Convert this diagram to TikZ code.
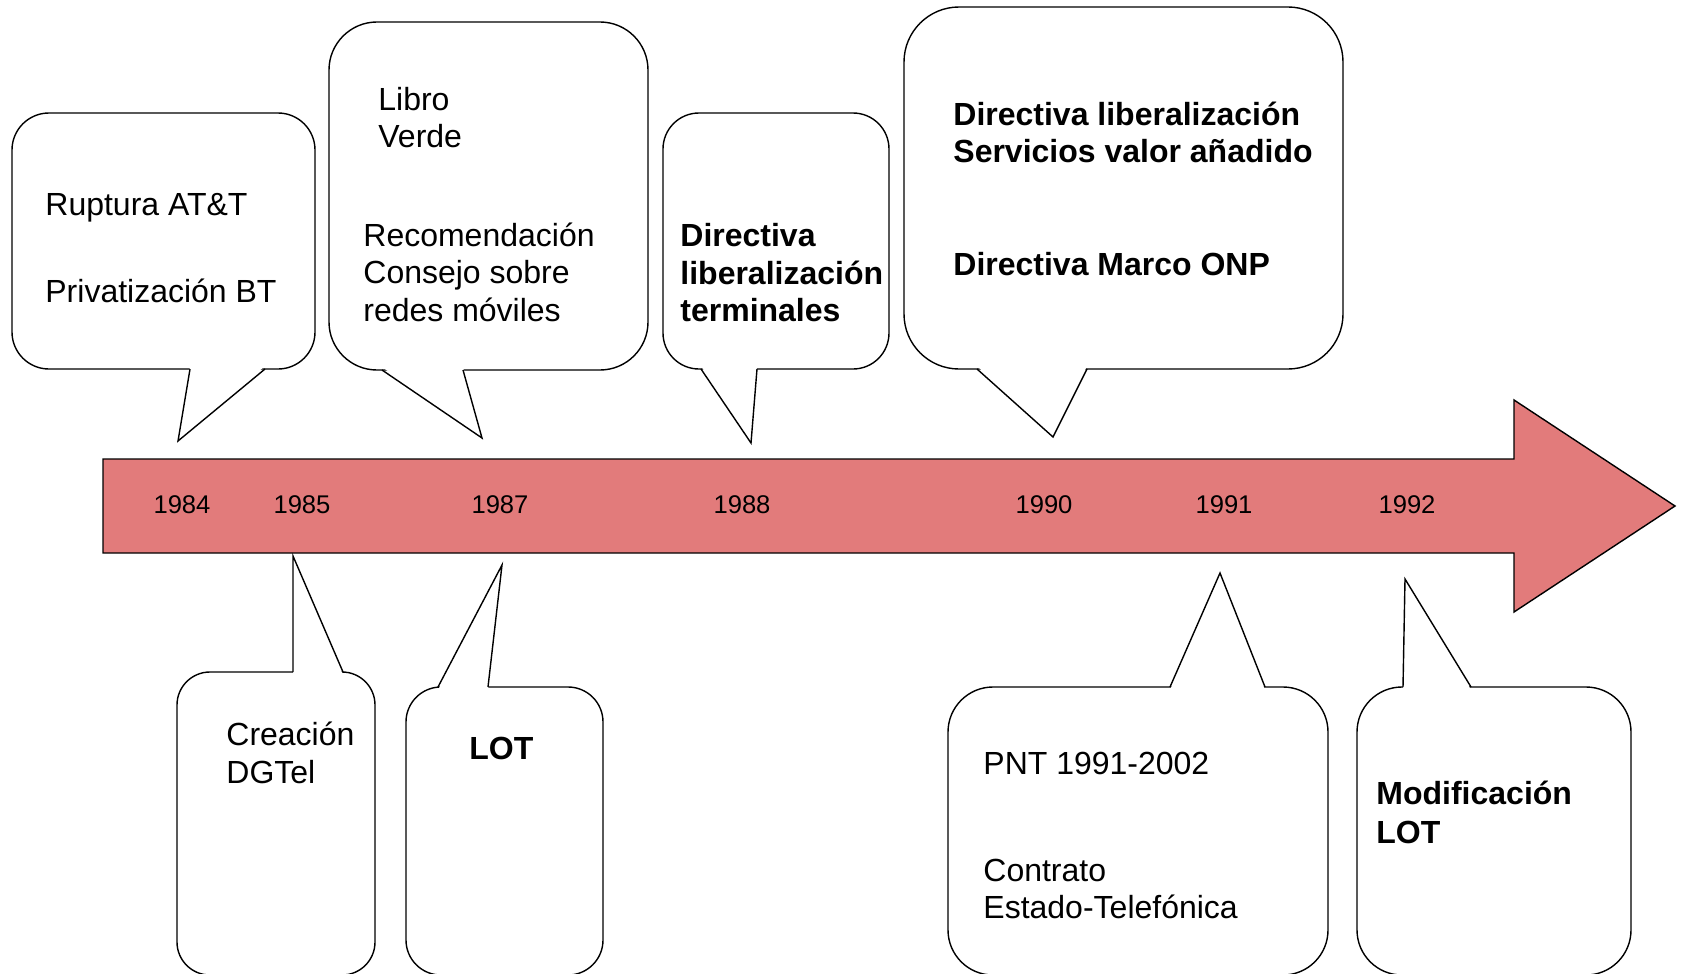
\documentclass[tikz,border=0pt]{standalone}
\usepackage{fontspec}
\setmainfont{Liberation Sans}
\usepackage{tikz}
\definecolor{arrowred}{RGB}{226,123,123}
\tikzset{
         bubble/.style={draw=black,line width=0.7pt,fill=white},
         tail/.style={line width=0.7pt},
         txt/.style={anchor=base west,inner sep=0pt,font=\fontsize{16}{18.5}\selectfont},
         btxt/.style={txt,font=\fontsize{16}{18.5}\selectfont\bfseries},
         year/.style={anchor=base,inner sep=0pt,font=\fontsize{12.8}{15}\selectfont}
        }

\begin{document}
\begin{tikzpicture}[x=0.5pt,y=-0.5pt]
\useasboundingbox (0,0) rectangle (1681,974);
%arrow
\draw[line width=0.7pt,fill=arrowred](103,459)--(1514,459)--(1514,400)--(1675,506)--(1514,612)--(1514,553)--(103,553)--cycle;
%years
\node[year] (y84) at (182,513) {1984};
\node[year] (y85) at (302,513) {1985};
\node[year] (y87) at (500,513) {1987};
\node[year] (y88) at (742,513) {1988};
\node[year] (y90) at (1044,513) {1990};
\node[year] (y91) at (1224,513) {1991};
\node[year] (y92) at (1407,513) {1992};
%tips
\coordinate (t84) at (178,441);
\coordinate (t87a) at (482,438);
\coordinate (t88) at (751,443);
\coordinate (t90) at (1053,437);
\coordinate (t85) at (293,556);
\coordinate (t87b) at (502,565);
\coordinate (t91) at (1220,573);
\coordinate (t92) at (1405,579);
%callouts above
\draw[bubble,rounded corners=18.5pt](12,113) rectangle (315,369);
\fill[white](190,366)--(t84)--(265,366)--cycle;
\draw[tail](190,369)--(t84)--(265,369);
\draw[bubble,rounded corners=24pt](329,22) rectangle (648,370);
\fill[white](382,367)--(t87a)--(463,367)--cycle;
\draw[tail](382,370)--(t87a)--(463,370);
\draw[bubble,rounded corners=18pt](663,113) rectangle (889,369);
\fill[white](701,366)--(t88)--(757,366)--cycle;
\draw[tail](701,369)--(t88)--(757,369);
\draw[bubble,rounded corners=27.5pt](904,7) rectangle (1343,369);
\fill[white](977,366)--(t90)--(1087,366)--cycle;
\draw[tail](977,369)--(t90)--(1087,369);
%callouts below
\draw[bubble,rounded corners=16.5pt](177,672) rectangle (375,975);
\fill[white](293,675)--(t85)--(343,675)--cycle;
\draw[tail](293,672)--(t85)--(343,672);
\draw[bubble,rounded corners=17.5pt](406,687) rectangle (603,975);
\fill[white](438,690)--(t87b)--(488,690)--cycle;
\draw[tail](438,687)--(t87b)--(488,687);
\draw[bubble,rounded corners=22.5pt](948,687) rectangle (1328,975);
\fill[white](1170,690)--(t91)--(1265,690)--cycle;
\draw[tail](1170,687)--(t91)--(1265,687);
\draw[bubble,rounded corners=22.5pt](1357,687) rectangle (1631,975);
\fill[white](1403,690)--(t92)--(1471,690)--cycle;
\draw[tail](1403,687)--(t92)--(1471,687);
%labels
\node[txt] (ruptura) at (45,215.5) {Ruptura AT\&T};
\node[txt] (privat) at (45,302) {Privatización BT};
\node[txt] (libro) at (378,110.5) {Libro};
\node[txt] (verde) at (378,148) {Verde};
\node[txt] (recom) at (363,246) {Recomendación};
\node[txt] (consejo) at (363,283.5) {Consejo sobre};
\node[txt] (redes) at (363,321) {redes móviles};
\node[btxt] (dirterm) at (680,246) {Directiva};
\node[btxt] (libterm) at (680,284) {liberalización};
\node[btxt] (term) at (680,321) {terminales};
\node[btxt] (dirlib) at (953,125.5) {Directiva liberalización};
\node[btxt] (servicios) at (953,162.5) {Servicios valor añadido};
\node[btxt] (onp) at (953,275) {Directiva Marco ONP};
\node[txt] (creacion) at (226,745.5) {Creación};
\node[txt] (dgtel) at (226,783.5) {DGTel};
\node[btxt] (lot) at (469,759.5) {LOT};
\node[txt] (pnt) at (983,774.5) {PNT 1991-2002};
\node[txt] (contrato) at (983,881) {Contrato};
\node[txt] (estado) at (983,918.5) {Estado-Telefónica};
\node[btxt] (modif) at (1376,804.5) {Modificación};
\node[btxt] (lotmod) at (1376,843.5) {LOT};
\end{tikzpicture}
\end{document}
